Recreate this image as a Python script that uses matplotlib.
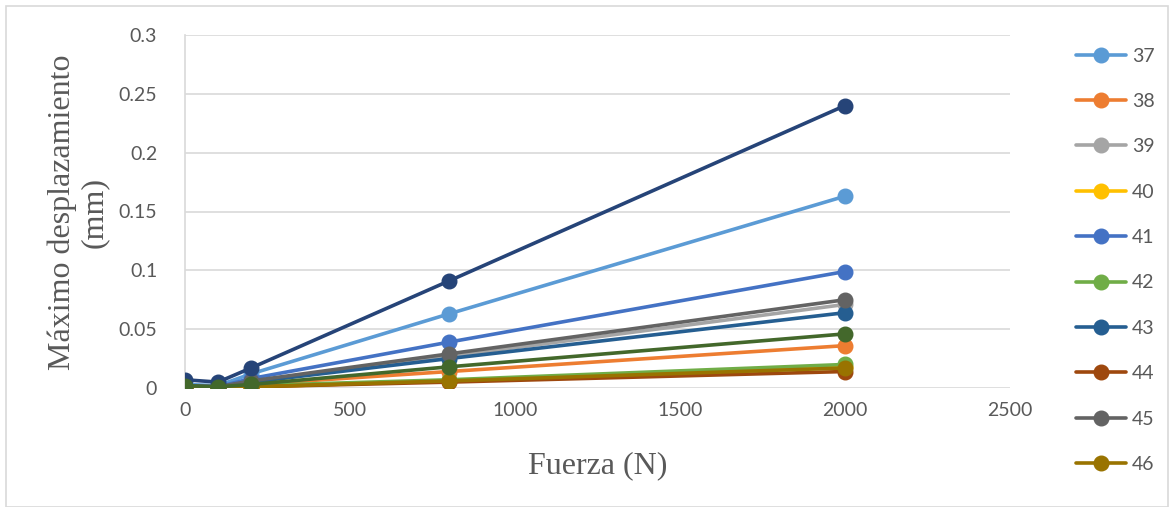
import matplotlib
matplotlib.use("Agg")
import matplotlib.pyplot as plt
from matplotlib.patches import Rectangle

# Applied force (N)
fuerza = [0, 100, 200, 800, 2000]

# Maximum displacement (mm) per specimen
s37 = [0.003, 0.002, 0.012, 0.063, 0.163]
s38 = [0.001, 0.0005, 0.003, 0.014, 0.036]
s39 = [0.002, 0.001, 0.005, 0.027, 0.071]
s40 = [0.001, 0.0005, 0.001, 0.006, 0.018]
s41 = [0.002, 0.001, 0.008, 0.039, 0.099]
s42 = [0.001, 0.0005, 0.002, 0.007, 0.020]
s43 = [0.002, 0.001, 0.005, 0.025, 0.064]
s44 = [0.001, 0.0003, 0.001, 0.005, 0.014]
s45 = [0.002, 0.001, 0.006, 0.029, 0.075]
s46 = [0.001, 0.0003, 0.001, 0.006, 0.017]
s47 = [0.007, 0.005, 0.017, 0.091, 0.240]
s48 = [0.002, 0.001, 0.003, 0.018, 0.046]

labels = ["37", "38", "39", "40", "41", "42", "43", "44", "45", "46", "47", "48"]
series = [s37, s38, s39, s40, s41, s42, s43, s44, s45, s46, s47, s48]
colors = ["#5B9BD5", "#ED7D31", "#A5A5A5", "#FFC000", "#4472C4", "#70AD47",
          "#255E91", "#9E480E", "#636363", "#997300", "#264478", "#43682B"]
# only the first ten specimens fit in the legend column
legend_count = 10

fig = plt.figure(figsize=(11.74, 5.07), dpi=100)
ax = fig.add_axes([185 / 1174, 1 - 388 / 507, (1010 - 185) / 1174, (388 - 35) / 507])

for i, (lab, ys, c) in enumerate(zip(labels, series, colors)):
    ax.plot(fuerza, ys, color=c, lw=2.6, marker="o", ms=10.5,
            label=lab if i < legend_count else "_nolegend_",
            solid_capstyle="round", zorder=3 + i)

ax.set_xlim(0, 2500)
ax.set_ylim(0, 0.3)
ax.set_xticks([0, 500, 1000, 1500, 2000, 2500])
ax.set_yticks([0, 0.05, 0.1, 0.15, 0.2, 0.25, 0.3])
ax.set_yticklabels(["0", "0.05", "0.1", "0.15", "0.2", "0.25", "0.3"])
ax.grid(axis="y", color="#D9D9D9", lw=1.2)
ax.set_axisbelow(True)
for side in ["top", "right", "bottom"]:
    ax.spines[side].set_visible(False)
ax.spines["left"].set_color("#D9D9D9")
ax.spines["left"].set_linewidth(1.2)
ax.tick_params(length=0, labelsize=14, labelcolor="#595959")
for t in ax.get_xticklabels() + ax.get_yticklabels():
    t.set_fontfamily("Lato")
ax.tick_params(axis="x", pad=10)
ax.tick_params(axis="y", pad=20)

ax.set_xlabel("Fuerza (N)", fontsize=23, family="Liberation Serif",
              color="#595959", labelpad=23)
fig.text(78 / 1174, 1 - 212 / 507, "Máximo desplazamiento\n(mm)", rotation=90,
         ha="center", va="center", fontsize=23, family="Liberation Serif",
         color="#595959", linespacing=1.15)

leg = fig.legend(loc="upper left", bbox_to_anchor=(1058 / 1174, 1 - 30 / 507),
                 frameon=False, labelspacing=1.46,
                 handlelength=2.6, handletextpad=0.3, prop={"family": "Lato", "size": 14})
for t in leg.get_texts():
    t.set_color("#595959")

fig.patches.append(Rectangle((6 / 1174, 0), 1 - 12 / 1174, 1 - 6 / 507,
                             transform=fig.transFigure, fill=False,
                             edgecolor="#D9D9D9", lw=1.2))

fig.savefig("out.png", dpi=100)
